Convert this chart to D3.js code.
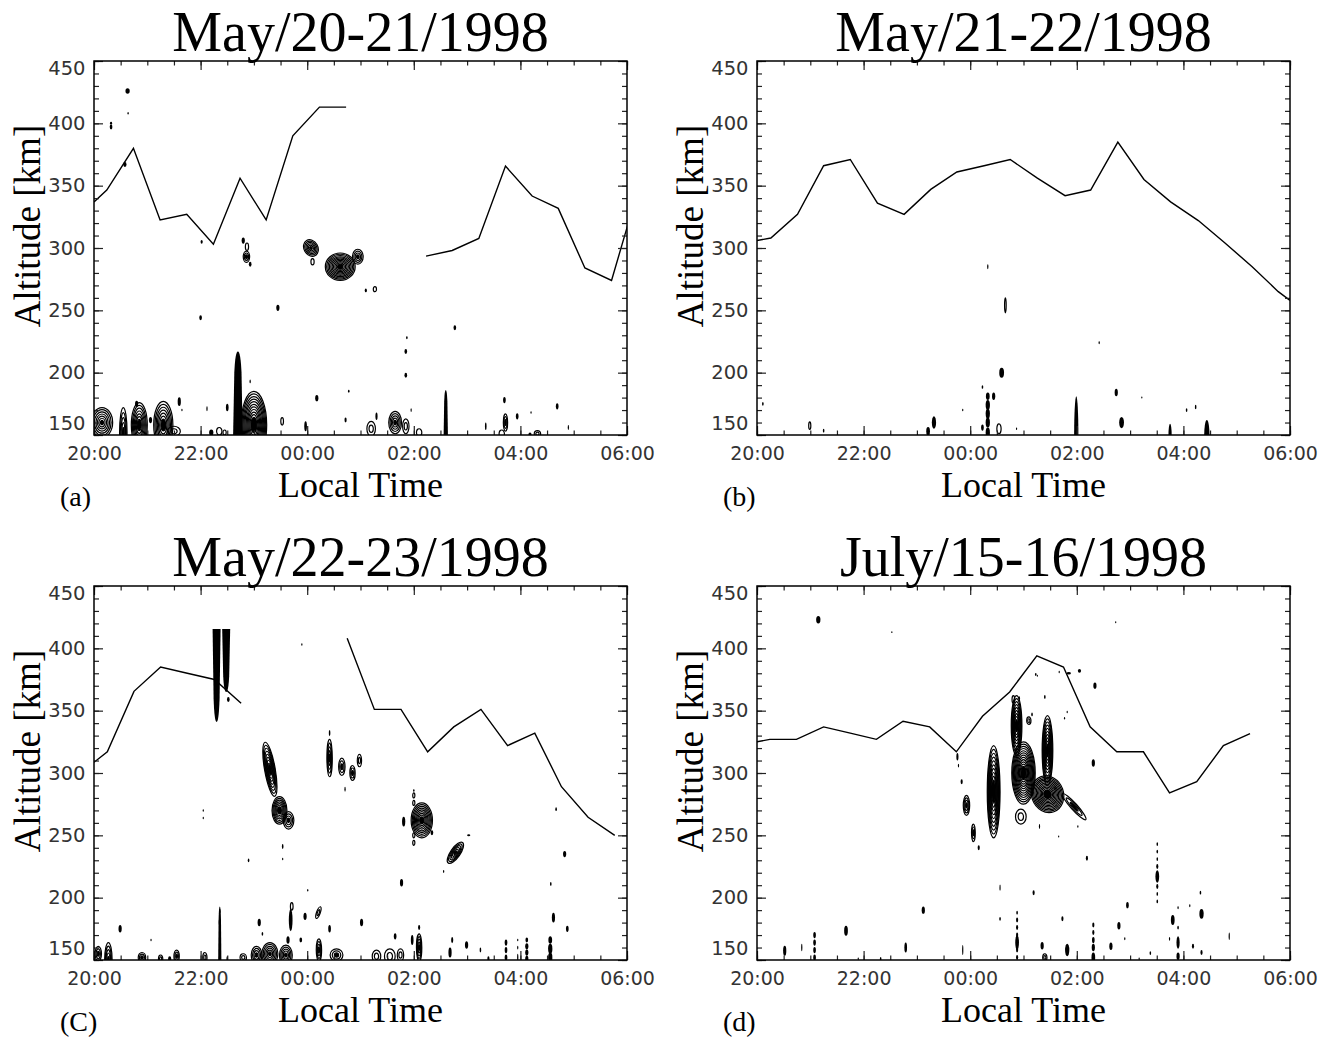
<!DOCTYPE html>
<html><head><meta charset="utf-8">
<script src="https://cdn.jsdelivr.net/npm/d3@7"></script>
<style>body{margin:0;background:#fff}</style></head>
<body>
<svg id="chart" width="1330" height="1039"></svg>
<script>
// ---------- DATA ----------
const hourTicks = [0, 2, 4, 6, 8, 10];           // hours after 20:00 LT
const hourLabels = ["20:00", "22:00", "00:00", "02:00", "04:00", "06:00"];
const altTicks = [150, 200, 250, 300, 350, 400, 450];
const titles = ["May/20-21/1998", "May/21-22/1998", "May/22-23/1998", "July/15-16/1998"];
const tags = ["(a)", "(b)", "(C)", "(d)"];

// solid line: [hour after 20:00, altitude km], split in segments
const lineA = [
  [[0,337],[0.24,346.5],[0.74,380],[1.24,322.5],[1.74,327],[2.24,303],[2.74,356],[3.23,322.5],[3.73,390],[4.23,413],[4.73,413]],
  [[6.23,293.5],[6.72,298],[7.22,307.7],[7.72,365.7],[8.22,341.7],[8.71,331.8],[9.21,284],[9.71,274],[10.21,347]]
];
const lineB = [
  [[0,306],[0.26,308],[0.76,327],[1.25,366],[1.75,371],[2.26,336],[2.76,327],[3.26,347],[3.75,361],[4.26,366],[4.75,371],[5.26,356],[5.78,342],[6.26,346.5],[6.77,385],[7.26,355],[7.76,337],[8.28,322],[8.78,304],[9.29,285],[9.78,265],[10,258]]
];
const lineC = [
  [[0,308.6],[0.25,317],[0.75,365.5],[1.25,385],[1.75,380],[2.26,375],[2.76,356]],
  [[4.75,408],[5.26,351],[5.76,351],[6.26,317],[6.75,337],[7.26,351],[7.76,322],[8.27,332],[8.77,289],[9.27,264.5],[9.77,250]]
];
const lineD = [
  [[0,325],[0.24,327],[0.74,327],[1.25,337],[1.75,332],[2.24,327],[2.74,341.5],[3.24,337],[3.74,317],[4.23,345.5],[4.74,365],[5.25,394],[5.75,385],[6.25,337],[6.75,317],[7.25,317],[7.74,284],[8.25,293],[8.75,322],[9.25,331.5]]
];

// contour features: [hour, alt km, half-width h, half-height km, rings (0 = solid), tilt deg]
const blobsA = [
  [0.32,397,0.025,2,0],[0.32,400,0.02,1.2,0],[0.63,426,0.04,2.2,0],[0.64,408,0.012,1,0],[0.58,367,0.03,2,0],
  [2.02,305,0.02,1.5,0],[2.8,306,0.03,2.5,0],[2.87,301,0.03,3,1],[2.86,293,0.06,4.5,3],[2.93,287,0.025,2,0],
  [4.07,300,0.13,7,6,-30],[4.1,289,0.03,2.5,1],[4.62,285,0.28,11,11],[4.95,293,0.1,6,4],[5.1,266,0.02,1.5,0],[5.27,267,0.03,2,1],
  [3.45,252,0.03,2.5,0],[2.0,244,0.025,2,0],[5.87,228,0.015,1.2,0],[5.85,217,0.025,2,0],[5.85,198,0.025,2,0],[6.77,236,0.025,2,0],
  [0.15,160,0.2,12,7],[0.55,152,0.07,20,5],[0.85,158,0.15,18,8],[0.8,175,0.03,2.5,0],[1.3,158,0.18,19,8],[1.06,162,0.03,2.5,0],
  [1.6,176.7,0.03,3.5,0],[1.65,170,0.01,1,0],[2.12,171,0.012,2,0],[2.5,172,0.025,3,0],[1.5,153,0.12,4,2],
  [2.2,152,0.04,2.5,0],[2.35,153,0.05,3,1],[2.45,152,0.03,2,1],[3.0,158,0.24,27,13],[2.93,193,0.012,1.5,0],[3.19,170,0.015,1.5,0],
  [3.53,161,0.025,3,1],[4.18,179.5,0.03,2.5,0],[4.78,185,0.015,1.2,0],[4.72,162,0.02,2,0],[3.97,157,0.025,4,0],
  [5.2,155,0.08,6,2],[5.3,165,0.02,3,0],[5.65,160,0.12,9,5],[5.85,157,0.06,6,2],[5.95,170,0.01,1.5,0],[6.1,152,0.05,3,1],
  [7.7,178,0.025,2.5,0],[7.72,160,0.04,7,3],[7.65,151,0.05,3,1],[7.94,165,0.025,2.5,0],[7.35,157,0.015,3,0],[8.2,168,0.008,1,0],
  [8.32,151,0.06,2.5,2],[8.18,150,0.03,2,0],[8.69,173,0.025,2.5,0],[8.9,156,0.012,2,0]
];
const spikesA = [[2.7,150,217,0.09],[6.6,150,186,0.04]];   // [hour, base km, tip km, half-width h]

const blobsB = [
  [0.11,175,0.015,1.5,0],[0.99,157.5,0.02,3,1],[1.25,153.5,0.015,1.5,0],[3.21,153,0.035,3.5,0],[3.32,160,0.04,5,0],
  [3.86,170,0.01,1,0],[4.23,188.5,0.015,1.5,0],[4.33,285,0.012,2,0],
  [4.33,152,0.04,4,0],[4.33,160,0.04,4,0],[4.33,167,0.04,4,0],[4.33,174,0.04,4,0],[4.33,181,0.035,3,0],
  [4.23,156,0.025,2.5,0],[4.44,181,0.03,3,0],[4.54,155,0.04,4,1],[4.59,200,0.045,4,0],[4.66,254,0.015,6,1],[4.87,155,0.01,1,0],
  [5.99,150,0.04,31,0],[6.42,224,0.012,1.2,0],[6.74,184,0.03,3,0],[6.84,160,0.045,4.5,0],[7.22,180,0.008,0.8,0],
  [7.75,150,0.03,9,0],[8.06,170,0.015,1.5,0],[8.23,172.5,0.015,1.8,0],[8.44,150,0.05,12,0]
];
const spikesB = [];

const blobsC = [
  [2.52,359,0.025,2,0],[3.9,403,0.01,1,0],[3.3,303,0.1,22,9,-10],[3.48,270,0.14,11,8],[3.65,262,0.1,7,4],
  [4.42,312,0.05,15,5],[4.42,332,0.015,2.5,0],[4.65,305,0.06,7,3],[4.85,300,0.05,6,3],[4.98,310,0.04,5,2],[4.71,287,0.012,2,0],
  [2.05,270,0.01,1,0],[2.05,264,0.01,1,0],[3.54,241,0.015,2,0],[3.54,231,0.01,1,0],[2.9,230,0.015,1.5,0],
  [6.15,262,0.2,14,10],[6.0,282,0.02,2,1],[6.0,276,0.02,2,1],[6.0,250,0.02,2,1],[6.0,244,0.02,2,1],[6.0,286,0.015,1,0],
  [5.81,261,0.03,4,0],[6.34,252,0.025,2,0],[6.78,236,0.09,10,6,35],[7.03,250,0.03,0.8,0],[6.56,221,0.012,1.2,0],[5.77,212,0.03,3,0],
  [8.67,271,0.015,1.5,0],[8.83,235,0.03,2.5,0],[8.57,211,0.015,1.5,0],[4.01,206,0.01,1,0],
  [0.49,175,0.03,3,0],[0.08,155,0.06,6,3],[0.27,150,0.07,14,5],[1.07,166,0.008,1,0],[0.9,152,0.07,4,3],
  [1.25,151,0.04,3,2],[1.42,151,0.03,2,0],[1.55,153,0.05,5,3],[2.08,152,0.04,4,2],[2.36,180,0.02,3,0],[2.36,189,0.015,2,0],
  [2.5,151,0.015,2,0],[2.8,152,0.06,3,2],[3.05,154,0.1,7,4],[3.3,155,0.15,9,6],[3.6,154,0.12,8,5],
  [3.1,180,0.03,3,0],[3.16,171,0.015,1.5,0],[3.69,182,0.035,9,0],[3.71,193,0.025,3,1],[3.64,166,0.03,3,0],[3.88,166,0.025,2,0],
  [3.96,185,0.03,3,0],[4.21,188,0.035,5,2,20],[4.22,158,0.05,9,4],[4.42,175,0.025,3,0],[4.55,154,0.12,5,3],[5.02,180,0.03,3,0],
  [5.3,153,0.08,5,2],[5.55,153,0.1,6,2],[5.75,154,0.06,5,2],[5.65,169,0.025,2.5,0],[5.97,166,0.025,4,0],
  [6.1,160,0.05,11,5],[6.1,176,0.02,2,0],[6.68,156,0.03,4,0],[6.72,166,0.02,2.5,0],[6.99,162,0.03,3,0],[7.25,158,0.015,2,0],[7.4,151,0.02,2,0],
  [7.73,152,0.025,2.5,0],[7.73,158,0.025,2.5,0],[7.73,164,0.025,2.5,0],[7.95,152,0.012,3,0],[7.95,160,0.01,1.5,0],[7.95,166,0.01,1,0],
  [8.12,151,0.03,2.5,0],[8.12,156,0.03,2.5,0],[8.12,161,0.03,2.5,0],[8.12,166,0.025,2,0],
  [8.56,152,0.04,4,0],[8.56,159,0.04,4,0],[8.56,166,0.035,3,0],[8.62,184,0.03,4,0],[8.88,175,0.025,2.5,0]
];
const spikesC = [[2.3,415.5,341,0.075],[2.48,415.5,365,0.075],[2.36,150,193,0.03]];

const blobsD = [
  [1.15,423,0.04,3,0],[2.53,413,0.008,0.8,0],[6.73,421,0.008,0.8,0],[6.34,370,0.03,2.5,0],[6.31,308,0.03,3,0],
  [6.19,231.6,0.02,2,0],[5.19,204,0.02,2,0],[4.56,208,0.008,2.5,0],[3.12,190,0.03,3,0],[1.67,173.5,0.035,4,0],
  [1.08,152,0.025,2.5,0],[1.08,158,0.025,2.5,0],[1.08,164,0.025,2.5,0],[1.08,170,0.025,2.5,0],
  [0.52,157.5,0.03,4,0],[0.84,160,0.01,3,0],[1.9,151,0.01,1,0],[2.32,151,0.015,1.5,0],[2.79,160,0.025,4,0],[3.86,158,0.01,4,0],
  [4.88,152,0.02,2,0],[4.88,158,0.02,2,0],[4.88,164,0.035,6,0],[4.88,170,0.02,2,0],[4.88,176,0.02,2,0],[4.88,182,0.02,2,0],[4.88,188,0.015,1.5,0],
  [4.56,183,0.015,1.5,0],[5.35,161.5,0.03,3,0],[5.4,152,0.04,3,2],[5.73,183,0.02,2,0],[5.82,158,0.04,5,0],
  [6.31,152,0.035,4,0],[6.31,160,0.03,3,0],[6.31,166,0.025,2.5,0],[6.31,172,0.02,2,0],[6.31,178,0.02,2,0],
  [6.64,161,0.03,3,0],[6.79,177.5,0.03,3,0],[6.9,167,0.012,1.2,0],[6.95,194,0.025,2.5,0],[7.17,151,0.01,1,0],[7.38,155.6,0.015,1.5,0],
  [7.51,243,0.015,1.5,0],[7.51,237,0.015,1.5,0],[7.51,231,0.015,1.5,0],[7.51,225,0.02,2,0],[7.51,217,0.035,5,0],[7.51,209,0.02,2,0],[7.51,203,0.015,1.5,0],[7.51,197,0.015,1.5,0],
  [7.8,182,0.035,4,0],[7.74,167,0.012,1.5,0],[7.9,192,0.012,1.2,0],[7.9,176,0.015,1.5,0],[7.9,164,0.03,5,0],[7.9,153,0.03,3,0],
  [8.12,193.6,0.012,1.2,0],[8.18,161,0.02,2,0],[8.32,204,0.015,1.5,0],[8.34,187,0.04,4,0],[8.34,156,0.02,2,0],[8.86,169,0.01,3,0],
  [4.44,285,0.12,37,12],[3.76,313,0.02,3,0],[3.78,306,0.01,1.5,0],[3.84,293,0.02,2,0],[3.93,274,0.06,8,4],[4.06,252,0.035,7,3],[4.16,240,0.02,2,0],
  [4.87,338,0.1,24,10],[5.0,300,0.22,25,14],[4.81,359,0.025,3,1],[5.16,347,0.015,1.5,0],[5.1,342,0.04,3,2],
  [5.45,318,0.1,28,11],[5.45,283,0.3,15,13,-20],[5.95,273,0.06,14,3,-42],[4.95,265,0.1,6,2],[5.3,257,0.005,2,0],
  [5.67,381,0.01,1,0],[5.85,380,0.04,1,0],[6.05,382,0.03,1.5,0],[5.23,379,0.015,1.2,0],[5.77,344,0.01,1,0],
  [4.92,360,0.015,1.5,0],[5.4,361,0.015,1.5,0],[5.26,378,0.008,0.8,0],[5.82,349,0.008,1,0],[5.66,249,0.008,0.8,0],[6.02,257,0.01,1,0]
];
const spikesD = [];

const lines = [lineA, lineB, lineC, lineD];
const blobs = [blobsA, blobsB, blobsC, blobsD];
const spikes = [spikesA, spikesB, spikesC, spikesD];

// ---------- LAYOUT ----------
const W = 533, H = 374;
const origins = [[94, 61], [757, 61], [94, 586], [757, 586]];
const serif = "'Liberation Serif','Times New Roman',Times,serif";
const sans = "'DejaVu Sans',Verdana,sans-serif";

const x = d3.scaleLinear().domain([0, 10]).range([0, W]);
const y = d3.scaleLinear().domain([150, 450]).range([H, 0]);
const minorHours = d3.range(0, 10.01, 0.5);
const minorAlts = d3.range(150, 451, 10);

const svg = d3.select("#chart");
svg.append("rect").attr("width", 1330).attr("height", 1039).attr("fill", "#fff");

origins.forEach((o, i) => {
  const g = svg.append("g").attr("transform", `translate(${o[0]},${o[1]})`);
  const clipId = "clip" + i;
  g.append("clipPath").attr("id", clipId).append("rect").attr("width", W).attr("height", H);

  const plot = g.append("g").attr("clip-path", `url(#${clipId})`);

  // contour-like features
  blobs[i].forEach(b => {
    const [t, a, hw, hh, rings, rot] = b;
    const rx = x(hw) - x(0), ry = y(150) - y(150 + hh);
    const fg = plot.append("g").attr("transform", `translate(${x(t)},${y(a)}) rotate(${rot || 0})`);
    if (!rings) {
      fg.append("ellipse").attr("rx", Math.max(rx, 0.6)).attr("ry", Math.max(ry, 0.6)).attr("fill", "#000");
    } else {
      const core = rings >= 3 ? Math.max(1, Math.floor(rings / 4)) : 0;
      for (let k = rings; k >= 1; k--) {
        fg.append("ellipse").attr("rx", rx * k / rings).attr("ry", ry * k / rings)
          .attr("fill", k <= core ? "#000" : "none")
          .attr("stroke", "#000").attr("stroke-width", 1.2);
      }
    }
  });
  spikes[i].forEach(s => {
    const [t, base, tip, hw] = s;
    const X = x(t), Yb = y(base), Yt = y(tip), w = x(hw) - x(0);
    const Yc = Yt + (Yb - Yt) * 0.25;
    plot.append("path")
      .attr("d", `M${X - w},${Yb} L${X - w * 0.75},${Yc} Q${X - w * 0.55},${Yt} ${X},${Yt} Q${X + w * 0.55},${Yt} ${X + w * 0.75},${Yc} L${X + w},${Yb} Z`)
      .attr("fill", "#000");
  });

  // peak-height line
  const line = d3.line().x(d => x(d[0])).y(d => y(d[1]));
  lines[i].forEach(seg => {
    plot.append("path").attr("d", line(seg)).attr("fill", "none")
      .attr("stroke", "#000").attr("stroke-width", 1.4).attr("stroke-linejoin", "miter");
  });

  // axes
  const tickCol = "#222";
  const styleAxis = sel => { sel.select(".domain").remove(); sel.selectAll("line").attr("stroke", tickCol).attr("stroke-width", 1.2); };

  g.append("g").attr("transform", `translate(0,${H})`)
    .call(d3.axisBottom(x).tickValues(minorHours).tickSize(-4.5).tickFormat("")).call(styleAxis);
  g.append("g").call(d3.axisTop(x).tickValues(minorHours).tickSize(-4.5).tickFormat("")).call(styleAxis);
  g.append("g").call(d3.axisLeft(y).tickValues(minorAlts).tickSize(-5).tickFormat("")).call(styleAxis);
  g.append("g").attr("transform", `translate(${W},0)`)
    .call(d3.axisRight(y).tickValues(minorAlts).tickSize(-5).tickFormat("")).call(styleAxis);

  const xb = g.append("g").attr("transform", `translate(0,${H})`)
    .call(d3.axisBottom(x).tickValues(hourTicks).tickSize(-9).tickPadding(12).tickFormat((d, j) => hourLabels[j]))
    .call(styleAxis);
  xb.selectAll("text").attr("font-family", sans).attr("font-size", 19).attr("fill", "#333");
  g.append("g").call(d3.axisTop(x).tickValues(hourTicks).tickSize(-9).tickFormat("")).call(styleAxis);

  const yl = g.append("g")
    .call(d3.axisLeft(y).tickValues(altTicks).tickSize(-9).tickPadding(8.5))
    .call(styleAxis);
  yl.selectAll("text").attr("font-family", sans).attr("font-size", 19.5).attr("fill", "#333")
    .attr("transform", d => d === 450 ? "translate(0,7)" : d === 150 ? "translate(0,-12)" : null);
  g.append("g").attr("transform", `translate(${W},0)`)
    .call(d3.axisRight(y).tickValues(altTicks).tickSize(-9).tickFormat("")).call(styleAxis);

  g.append("rect").attr("width", W).attr("height", H).attr("fill", "none")
    .attr("stroke", "#000").attr("stroke-width", 1.5);

  // texts
  g.append("text").attr("x", W / 2).attr("y", -10).attr("text-anchor", "middle")
    .attr("font-family", serif).attr("font-size", 56).attr("fill", "#000").text(titles[i]);
  g.append("text").attr("x", W / 2).attr("y", H + 62).attr("text-anchor", "middle")
    .attr("font-family", serif).attr("font-size", 36).attr("fill", "#000").text("Local Time");
  g.append("text").attr("transform", `translate(-54,165) rotate(-90)`).attr("text-anchor", "middle")
    .attr("font-family", serif).attr("font-size", 37).attr("fill", "#000").text("Altitude [km]");
  g.append("text").attr("x", -34).attr("y", H + 71)
    .attr("font-family", serif).attr("font-size", 28).attr("fill", "#000").text(tags[i]);
});
</script>
</body></html>
